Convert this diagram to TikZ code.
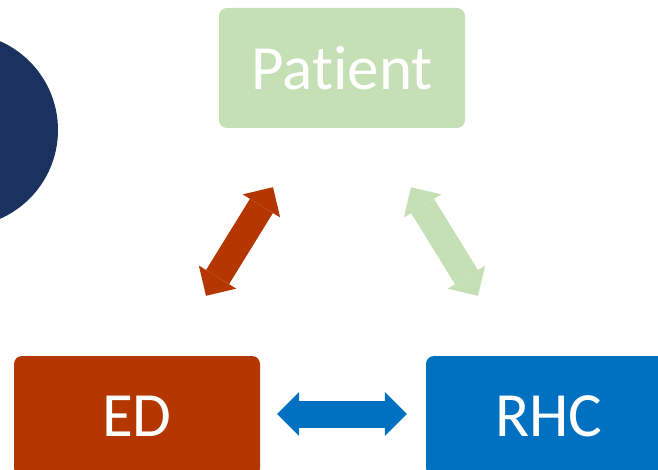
\documentclass[tikz,border=0pt]{standalone}
\usepackage{fontspec}
\setmainfont{Carlito}[Ligatures={NoCommon,NoRare}]
\usetikzlibrary{arrows.meta,calc}
\definecolor{navy}{HTML}{1B3260}
\definecolor{patientgreen}{HTML}{C5E0B4}
\definecolor{edred}{HTML}{B43600}
\definecolor{rhcblue}{HTML}{0070C0}
\begin{document}
\begin{tikzpicture}[x=1pt,y=1pt,
  box/.style={rounded corners=8pt, minimum width=246pt, minimum height=120pt,
    text=white, font=\fontsize{63}{70}\selectfont, inner sep=0pt},
  blocktip/.tip={Triangle[length=22pt,width=44pt,line width=0pt]},
  blockarrow/.style={line width=27pt, blocktip-blocktip}]
\useasboundingbox (0,0) rectangle (658,-470);
\clip (0,0) rectangle (658,-470);
% partial disc on the left edge
\fill[navy] (-39,-130) circle (97);
% the three parties
\node[box, fill=patientgreen] (patient) at (342,-68) {Patient};
\node[box, fill=edred] (ed) at (137,-416) {ED};
\node[box, fill=rhcblue] (rhc) at (549,-416) {RHC};
% arrow end points
\coordinate (edup) at ($(ed.north)+(69,60)$);
\coordinate (patleft) at ($(patient.south)+(-69,-59)$);
\coordinate (patright) at ($(patient.south)+(69,-59)$);
\coordinate (rhcup) at ($(rhc.north)+(-71,60)$);
% two-way links
\draw[blockarrow, edred] (edup) -- (patleft);
\draw[blockarrow, patientgreen] (patright) -- (rhcup);
\draw[blockarrow, rhcblue] ($(ed.east)+(17,2)$) -- ($(rhc.west)+(-19,2)$);
\end{tikzpicture}
\end{document}
